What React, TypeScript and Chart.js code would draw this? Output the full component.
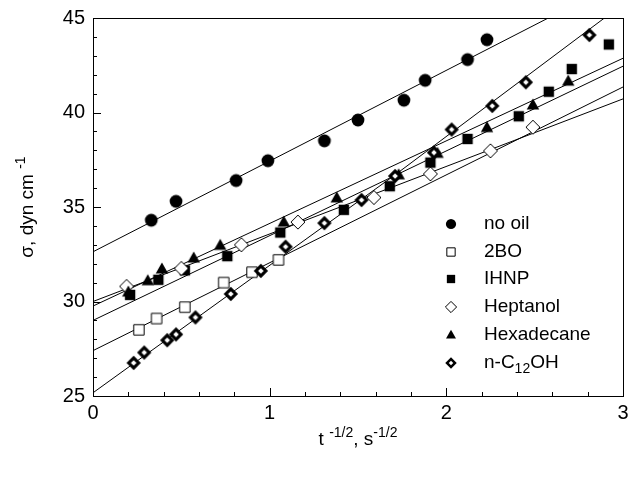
import React, { useEffect, useRef } from 'react';
import { Chart, registerables } from 'chart.js';
Chart.register(...registerables);

// ---- data ----
const noOilX = [0.33, 0.47, 0.81, 0.99, 1.31, 1.5, 1.76, 1.88, 2.12, 2.23];
const noOilY = [34.3, 35.3, 36.4, 37.45, 38.5, 39.6, 40.65, 41.7, 42.8, 43.85];

const bo2X = [0.26, 0.36, 0.52, 0.74, 0.9, 1.05];
const bo2Y = [28.5, 29.1, 29.7, 31.0, 31.55, 32.2];

const ihnpX = [0.21, 0.37, 0.52, 0.76, 1.06, 1.42, 1.68, 1.91, 2.12, 2.41, 2.58, 2.71, 2.92];
const ihnpY = [30.35, 31.15, 31.65, 32.4, 33.65, 34.85, 36.1, 37.35, 38.6, 39.8, 41.1, 42.3, 43.6];

const heptX = [0.19, 0.5, 0.84, 1.16, 1.59, 1.91, 2.25, 2.49];
const heptY = [30.8, 31.75, 33.0, 34.2, 35.5, 36.75, 37.97, 39.22];

const hexX = [0.2, 0.31, 0.39, 0.57, 0.72, 1.08, 1.38, 1.73, 1.95, 2.23, 2.49, 2.69];
const hexY = [30.5, 31.1, 31.72, 32.3, 32.97, 34.2, 35.48, 36.7, 37.84, 39.2, 40.4, 41.66];

const c12X = [0.23, 0.29, 0.42, 0.47, 0.58, 0.78, 0.95, 1.09, 1.31, 1.52, 1.71, 1.93, 2.03, 2.26, 2.45, 2.81];
const c12Y = [26.75, 27.3, 27.95, 28.26, 29.16, 30.4, 31.62, 32.9, 34.15, 35.37, 36.64, 37.88, 39.1, 40.35, 41.6, 44.1];

// fitted lines (end points)
const noOilFitX = [0, 2.577];
const noOilFitY = [32.63, 45];
const bo2FitX = [0, 3];
const bo2FitY = [27.4, 41.35];
const ihnpFitX = [0, 3];
const ihnpFitY = [29.0, 42.45];
const heptFitX = [0, 3];
const heptFitY = [30.0, 40.72];
const hexFitX = [0, 3];
const hexFitY = [29.76, 42.87];
const c12FitX = [0, 1.71, 2.895];
const c12FitY = [25.17, 36.7, 45];

const seriesNames = ['no oil', '2BO', 'IHNP', 'Heptanol', 'Hexadecane', 'n-C12OH'];
const xTickValues = [0, 1, 2, 3];
const xTickLabels = ['0', '1', '2', '3'];
const yTickValues = [25, 30, 35, 40, 45];
const yTickLabels = ['25', '30', '35', '40', '45'];

const FONT = '"Liberation Sans", Arial, Helvetica, sans-serif';

type Kind = 'circle' | 'openSquare' | 'filledSquare' | 'openDiamond' | 'triangle' | 'boldDiamond';
const kinds: Kind[] = ['circle', 'openSquare', 'filledSquare', 'openDiamond', 'triangle', 'boldDiamond'];

function drawMarker(ctx: CanvasRenderingContext2D, kind: Kind, cx: number, cy: number, k: number) {
  ctx.save();
  ctx.fillStyle = '#000';
  ctx.strokeStyle = '#000';
  ctx.lineWidth = 1;
  ctx.beginPath();
  if (kind === 'circle') {
    ctx.arc(cx, cy, 6.4 * k, 0, Math.PI * 2);
    ctx.fill();
  } else if (kind === 'openSquare') {
    const s = 5.2 * k;
    ctx.rect(cx - s, cy - s, 2 * s, 2 * s);
    ctx.fillStyle = '#fff';
    ctx.fill();
    ctx.stroke();
  } else if (kind === 'filledSquare') {
    const s = 5.2 * k;
    ctx.rect(cx - s, cy - s, 2 * s, 2 * s);
    ctx.fill();
  } else if (kind === 'openDiamond') {
    const d = 7 * k;
    ctx.moveTo(cx, cy - d);
    ctx.lineTo(cx + d, cy);
    ctx.lineTo(cx, cy + d);
    ctx.lineTo(cx - d, cy);
    ctx.closePath();
    ctx.fillStyle = '#fff';
    ctx.fill();
    ctx.stroke();
  } else if (kind === 'triangle') {
    const h = 11 * k;
    const w = 12.5 * k;
    ctx.moveTo(cx, cy - h * 0.6);
    ctx.lineTo(cx + w / 2, cy + h * 0.4);
    ctx.lineTo(cx - w / 2, cy + h * 0.4);
    ctx.closePath();
    ctx.fill();
  } else if (kind === 'boldDiamond') {
    const d = 7.2 * k;
    ctx.moveTo(cx, cy - d);
    ctx.lineTo(cx + d, cy);
    ctx.lineTo(cx, cy + d);
    ctx.lineTo(cx - d, cy);
    ctx.closePath();
    ctx.fill();
    ctx.beginPath();
    const e = 2.8 * k;
    ctx.moveTo(cx, cy - e);
    ctx.lineTo(cx + e, cy);
    ctx.lineTo(cx, cy + e);
    ctx.lineTo(cx - e, cy);
    ctx.closePath();
    ctx.fillStyle = '#fff';
    ctx.fill();
  }
  ctx.restore();
}

function markerCanvas(kind: Kind): HTMLCanvasElement {
  const c = document.createElement('canvas');
  c.width = 18;
  c.height = 18;
  const ctx = c.getContext('2d')!;
  drawMarker(ctx, kind, 9, 9, 1);
  return c;
}

const zip = (xs: number[], ys: number[]) => xs.map((x, i) => ({ x, y: ys[i] }));

const decorPlugin = {
  id: 'decor',
  afterDraw(chart: any) {
    const { ctx, chartArea: a, scales } = chart;
    const xs = scales.x;
    const ys = scales.y;
    ctx.save();
    ctx.strokeStyle = '#000';
    ctx.lineWidth = 1;
    // frame
    ctx.strokeRect(Math.round(a.left) + 0.5, Math.round(a.top) + 0.5, Math.round(a.right - a.left), Math.round(a.bottom - a.top));
    // inward ticks
    ctx.beginPath();
    for (let i = 0; i <= 15; i++) {
      const v = i * 0.2;
      const px = Math.round(xs.getPixelForValue(v)) + 0.5;
      const len = i % 5 === 0 ? 8 : 4;
      ctx.moveTo(px, a.bottom);
      ctx.lineTo(px, a.bottom - len);
    }
    for (let v = 25; v <= 45; v++) {
      const py = Math.round(ys.getPixelForValue(v)) + 0.5;
      const len = v % 5 === 0 ? 8 : 4;
      ctx.moveTo(a.left, py);
      ctx.lineTo(a.left + len, py);
    }
    ctx.stroke();

    // tick labels
    ctx.fillStyle = '#000';
    ctx.font = `20px ${FONT}`;
    ctx.textBaseline = 'middle';
    ctx.textAlign = 'center';
    xTickValues.forEach((v, i) => {
      ctx.fillText(xTickLabels[i], xs.getPixelForValue(v), a.bottom + 17);
    });
    ctx.textAlign = 'right';
    yTickValues.forEach((v, i) => {
      ctx.fillText(yTickLabels[i], a.left - 8, ys.getPixelForValue(v));
    });

    // legend
    const lx = 451;
    const tx = 484;
    const rows = [224, 252, 279, 307, 335, 363];
    ctx.textBaseline = 'middle';
    ctx.textAlign = 'left';
    rows.forEach((ry, i) => {
      drawMarker(ctx, kinds[i], lx, ry, 0.8);
      if (i === 5) {
        ctx.font = `19px ${FONT}`;
        ctx.fillText('n-C', tx, ry);
        const w = ctx.measureText('n-C').width;
        ctx.font = `14px ${FONT}`;
        ctx.fillText('12', tx + w, ry + 6);
        const w2 = ctx.measureText('12').width;
        ctx.font = `19px ${FONT}`;
        ctx.fillText('OH', tx + w + w2, ry);
      } else {
        ctx.font = `19px ${FONT}`;
        ctx.fillText(seriesNames[i], tx, ry);
      }
    });

    // x title: t -1/2, s-1/2
    const parts: [string, boolean][] = [['t ', false], ['-1/2', true], [', s', false], ['-1/2', true]];
    const big = `19px ${FONT}`;
    const small = `14px ${FONT}`;
    let total = 0;
    parts.forEach(([t, sup]) => {
      ctx.font = sup ? small : big;
      total += ctx.measureText(t).width;
    });
    let cx = (a.left + a.right) / 2 - total / 2;
    const by = 445;
    ctx.textBaseline = 'alphabetic';
    parts.forEach(([t, sup]) => {
      ctx.font = sup ? small : big;
      ctx.fillText(t, cx, sup ? by - 8 : by);
      cx += ctx.measureText(t).width;
    });

    // y title: σ, dyn cm -1 (rotated)
    ctx.save();
    ctx.translate(33, (a.top + a.bottom) / 2);
    ctx.rotate(-Math.PI / 2);
    const yparts: [string, boolean][] = [['σ, dyn cm ', false], ['-1', true]];
    let yt = 0;
    yparts.forEach(([t, sup]) => {
      ctx.font = sup ? small : big;
      yt += ctx.measureText(t).width;
    });
    let yx = -yt / 2;
    yparts.forEach(([t, sup]) => {
      ctx.font = sup ? small : big;
      ctx.fillText(t, yx, sup ? -8 : 0);
      yx += ctx.measureText(t).width;
    });
    ctx.restore();
    ctx.restore();
  },
};

export default function App() {
  const ref = useRef<HTMLCanvasElement | null>(null);
  useEffect(() => {
    document.body.style.margin = '0';
    const canvas = ref.current!;
    const imgs = kinds.map((k) => markerCanvas(k));
    const pointSets = [
      zip(noOilX, noOilY),
      zip(bo2X, bo2Y),
      zip(ihnpX, ihnpY),
      zip(heptX, heptY),
      zip(hexX, hexY),
      zip(c12X, c12Y),
    ];
    const fitSets = [
      zip(noOilFitX, noOilFitY),
      zip(bo2FitX, bo2FitY),
      zip(ihnpFitX, ihnpFitY),
      zip(heptFitX, heptFitY),
      zip(hexFitX, hexFitY),
      zip(c12FitX, c12FitY),
    ];
    const markerDatasets = pointSets.map((d, i) => ({
      label: seriesNames[i],
      data: d,
      showLine: false,
      pointStyle: imgs[i],
      pointRadius: 7,
      pointHoverRadius: 7,
    }));
    const lineDatasets = fitSets.map((d, i) => ({
      label: seriesNames[i] + ' fit',
      data: d,
      showLine: true,
      pointRadius: 0,
      borderColor: '#000',
      borderWidth: 1,
      fill: false,
    }));
    const chart = new Chart(canvas, {
      type: 'scatter',
      data: { datasets: [...markerDatasets.reverse(), ...lineDatasets] as any },
      options: {
        animation: false,
        responsive: false,
        devicePixelRatio: 1,
        layout: { padding: { top: 18, right: 4, left: 0, bottom: 0 } },
        plugins: { legend: { display: false }, tooltip: { enabled: false } },
        scales: {
          x: {
            type: 'linear',
            min: 0,
            max: 3,
            ticks: { display: false },
            grid: { display: false, drawTicks: false },
            border: { display: false },
            afterFit: (s: any) => {
              s.height = 81;
            },
          },
          y: {
            type: 'linear',
            min: 25,
            max: 45,
            ticks: { display: false },
            grid: { display: false, drawTicks: false },
            border: { display: false },
            afterFit: (s: any) => {
              s.width = 93;
            },
          },
        },
      },
      plugins: [decorPlugin],
    } as any);
    return () => chart.destroy();
  }, []);
  return (
    <div style={{ position: 'fixed', left: 0, top: 0, width: 631, height: 477, background: '#fff' }}>
      <canvas ref={ref} width={631} height={477} style={{ width: 631, height: 477 }} />
    </div>
  );
}
